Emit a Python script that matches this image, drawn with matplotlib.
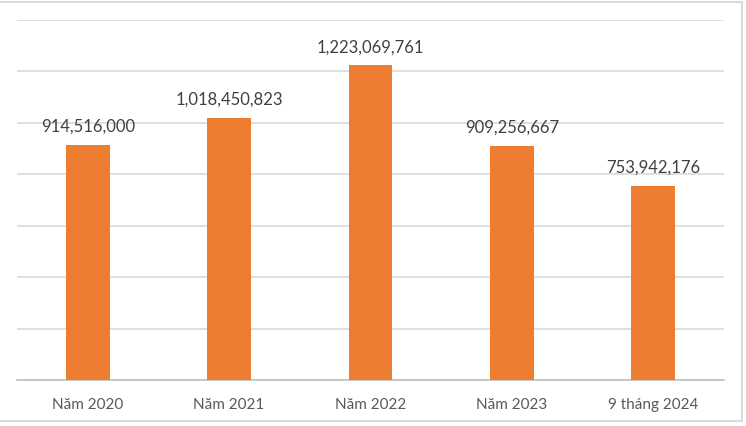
import numpy as np
import matplotlib
matplotlib.use('Agg')
import matplotlib.pyplot as plt
from matplotlib.lines import Line2D

categories = ["Năm 2020", "Năm 2021", "Năm 2022", "Năm 2023", "9 tháng 2024"]
values = [914516000, 1018450823, 1223069761, 909256667, 753942176]
labels = ["914,516,000", "1,018,450,823", "1,223,069,761", "909,256,667", "753,942,176"]

W, H = 746, 427
fig = plt.figure(figsize=(W / 100, H / 100), dpi=100, facecolor="white")
ax = fig.add_axes([17 / W, 1 - 381 / H, (724 - 17) / W, (381 - 21) / H])

x = np.arange(len(categories))
ax.bar(x, values, width=0.31, color="#ED7D31", zorder=3)
for xi, v, lab in zip(x, values, labels):
    ax.annotate(lab, (xi, v), xytext=(0, 8), textcoords="offset points",
                ha="center", va="bottom", fontsize=12, color="#404040",
                family="Lato")

ax.set_xlim(-0.5, len(categories) - 0.5)
ax.set_ylim(0, 1.4e9)
ax.set_yticks(np.arange(0, 1.41e9, 2e8))
ax.yaxis.grid(True, color="#d9d9d9", linewidth=1.2, zorder=0)
ax.tick_params(axis="y", left=False, labelleft=False)
ax.tick_params(axis="x", length=0, pad=12)
ax.set_xticks(x)
ax.set_xticklabels(categories, fontsize=11, color="#595959", family="Lato")
for s in ["top", "right", "left"]:
    ax.spines[s].set_visible(False)
ax.spines["bottom"].set_color("#bfbfbf")
ax.spines["bottom"].set_linewidth(1.2)

# outer chart frame
frame_kw = dict(color="#d9d9d9", linewidth=1.5, transform=fig.transFigure)
fig.add_artist(Line2D([0, 742 / W], [1 - 3 / H, 1 - 3 / H], **frame_kw))
fig.add_artist(Line2D([742 / W, 742 / W], [1 - 3 / H, 1 - 422 / H], **frame_kw))
fig.add_artist(Line2D([0, 742 / W], [1 - 422 / H, 1 - 422 / H], **frame_kw))

fig.savefig("out.png", dpi=100, facecolor="white")
